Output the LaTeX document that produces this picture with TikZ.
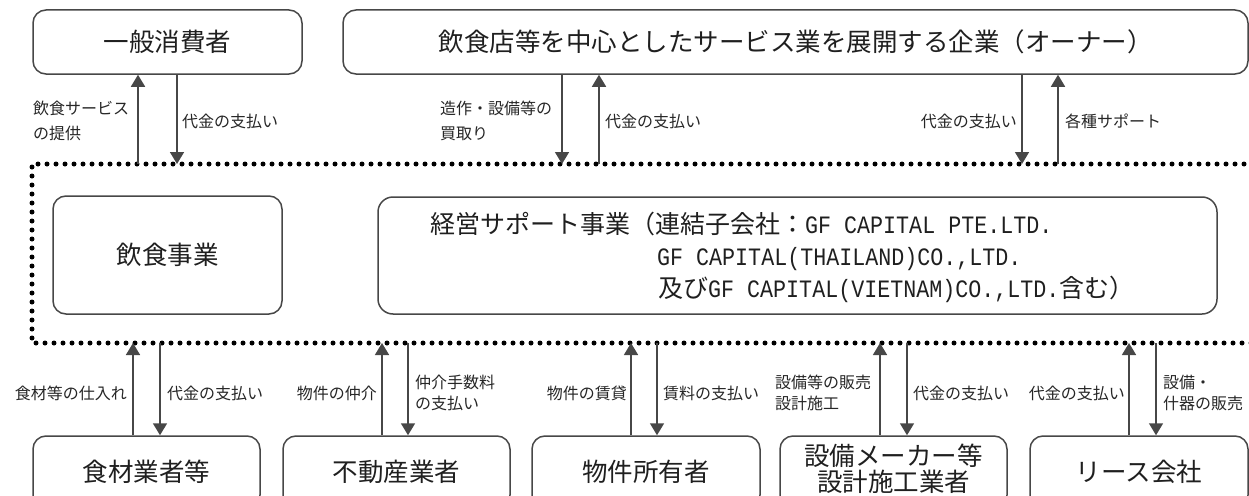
\documentclass[tikz,border=0pt]{standalone}
\usepackage{fontspec}
\setmainfont{Noto Sans CJK JP}
\newfontfamily\latmono[FakeStretch=0.867]{Liberation Mono}
\usetikzlibrary{arrows.meta}
\begin{document}
\begin{tikzpicture}[x=1pt,y=-1pt,
  box/.style={draw=black!72, line width=1.5pt, rounded corners=13pt, inner sep=0pt,
    font=\fontsize{25.5}{30}\selectfont, text=black!88, align=center},
  lbl/.style={inner sep=0pt, font=\fontsize{16}{25}\selectfont, text=black!85, align=left},
  lblb/.style={inner sep=0pt, font=\fontsize{16}{21}\selectfont, text=black!85, align=left},
  stxt/.style={inner sep=0pt, anchor=base west, font=\fontsize{25}{30}\selectfont, text=black!88},
  arr/.style={draw=black!72, line width=1.6pt, -{Triangle[width=14pt,length=12pt]}},
  dots/.style={line width=5pt, line cap=round, dash pattern=on 0pt off 9pt, black}]
\clip (0,0) rectangle (1249,495);

% top boxes
\node[box, minimum width=269pt, minimum height=64pt] (consumer) at (167.5,42) {一般消費者};
\node[box, minimum width=905pt, minimum height=64pt] (owner) at (795.5,42) {飲食店等を中心としたサービス業を展開する企業（オーナー）};

% dotted frame
\coordinate (ftr) at (1262,164);
\coordinate (ftl) at (32,164);
\coordinate (fbl) at (32,343);
\coordinate (fbr) at (1262,343);
\draw[dots] (ftr) -- (ftl) -- (fbl) -- (fbr);

% middle boxes
\node[box, minimum width=229pt, minimum height=118pt] (food) at (167.5,255) {飲食事業};
\node[box, minimum width=839pt, minimum height=117pt, rounded corners=15pt] (support) at (797.5,255.5) {};
\node[stxt] (s1) at (430,233) {経営サポート事業（連結子会社：{\latmono GF CAPITAL PTE.LTD.}};
\node[stxt] (s2) at (657,265) {\latmono GF CAPITAL(THAILAND)CO.,LTD.};
\node[stxt] (s3) at (658,297) {及び{\latmono GF CAPITAL(VIETNAM)CO.,LTD.}含む）};

% bottom boxes
\node[box, minimum width=227pt, minimum height=72pt] (b1) at (146.5,472) {食材業者等};
\node[box, minimum width=227pt, minimum height=72pt] (b2) at (396.5,472) {不動産業者};
\node[box, minimum width=228pt, minimum height=72pt] (b3) at (646,472) {物件所有者};
\node[box, minimum width=227pt, minimum height=72pt] (b4) at (893.5,472) {};
\node[inner sep=0pt, font=\fontsize{25.5}{26}\selectfont, text=black!88, align=center] (b4t) at (893.5,468.5) {設備メーカー等\\設計施工業者};
\node[box, minimum width=218pt, minimum height=72pt] (b5) at (1139,472) {リース会社};

% top arrows
\coordinate (t1) at (138,164);
\coordinate (t2) at (177,164);
\coordinate (t3) at (562,164);
\coordinate (t4) at (599,164);
\coordinate (t5) at (1022,164);
\coordinate (t6) at (1058,164);
\draw[arr] (t1) -- (t1 |- consumer.south);
\draw[arr] (t2 |- consumer.south) -- (t2);
\draw[arr] (t3 |- owner.south) -- (t3);
\draw[arr] (t4) -- (t4 |- owner.south);
\draw[arr] (t5 |- owner.south) -- (t5);
\draw[arr] (t6) -- (t6 |- owner.south);

\node[lbl, anchor=west] (lt1) at (33,120.5) {飲食サービス\\の提供};
\node[lbl, anchor=west] (lt2) at (182,121) {代金の支払い};
\node[lbl, anchor=west] (lt3) at (440,120.5) {造作・設備等の\\買取り};
\node[lbl, anchor=west] (lt4) at (605,121) {代金の支払い};
\node[lbl, anchor=east] (lt5) at (1017,121) {代金の支払い};
\node[lbl, anchor=west] (lt6) at (1065,121) {各種サポート};

% bottom arrows
\coordinate (u1) at (133,343);
\coordinate (u2) at (160,343);
\coordinate (u3) at (382,343);
\coordinate (u4) at (408,343);
\coordinate (u5) at (631,343);
\coordinate (u6) at (657,343);
\coordinate (u7) at (880,343);
\coordinate (u8) at (907,343);
\coordinate (u9) at (1129,343);
\coordinate (u10) at (1156,343);
\draw[arr] (u1 |- b1.north) -- (u1);
\draw[arr] (u2) -- (u2 |- b1.north);
\draw[arr] (u3 |- b2.north) -- (u3);
\draw[arr] (u4) -- (u4 |- b2.north);
\draw[arr] (u5 |- b3.north) -- (u5);
\draw[arr] (u6) -- (u6 |- b3.north);
\draw[arr] (u7 |- b4.north) -- (u7);
\draw[arr] (u8) -- (u8 |- b4.north);
\draw[arr] (u9 |- b5.north) -- (u9);
\draw[arr] (u10) -- (u10 |- b5.north);

\node[lblb, anchor=east] (lb1) at (127,393) {食材等の仕入れ};
\node[lblb, anchor=west] (lb2) at (167,393) {代金の支払い};
\node[lblb, anchor=east] (lb3) at (377,393) {物件の仲介};
\node[lblb, anchor=west] (lb4) at (415,392.5) {仲介手数料\\の支払い};
\node[lblb, anchor=east] (lb5) at (627,393) {物件の賃貸};
\node[lblb, anchor=west] (lb6) at (663,393) {賃料の支払い};
\node[lblb, anchor=west] (lb7) at (775,392.5) {設備等の販売\\設計施工};
\node[lblb, anchor=west] (lb8) at (913,393) {代金の支払い};
\node[lblb, anchor=east] (lb9) at (1125,393) {代金の支払い};
\node[lblb, anchor=west] (lb10) at (1163,392.5) {設備・\\什器の販売};
\end{tikzpicture}
\end{document}
